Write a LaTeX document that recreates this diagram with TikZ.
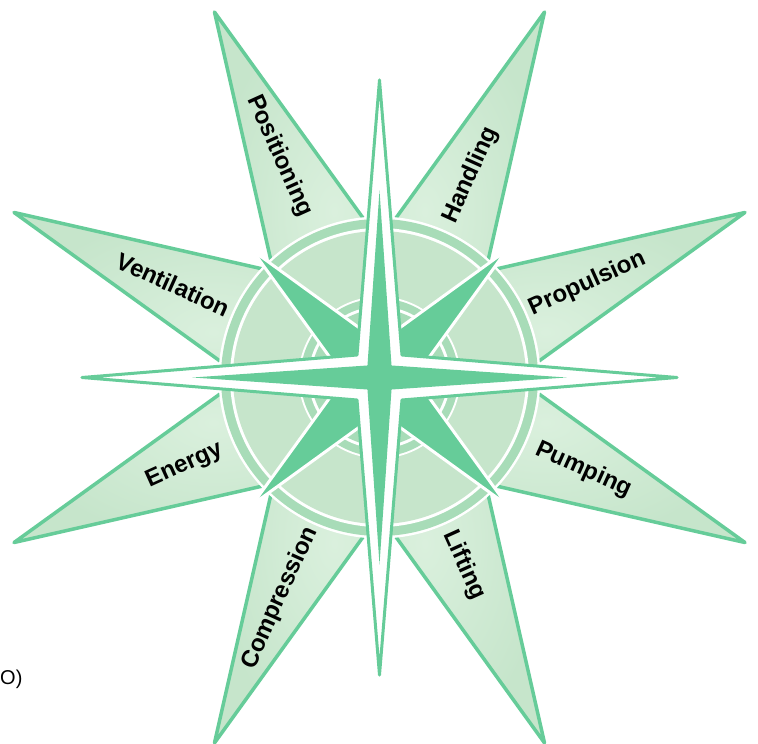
\documentclass[tikz,border=0pt]{standalone}
\usepackage{fontspec}
\setmainfont{Liberation Sans}
\definecolor{grn}{HTML}{66CC99}
\definecolor{lite}{HTML}{C6E5CB}
\definecolor{pale}{HTML}{DAF0DD}
\definecolor{mid}{HTML}{A8DCB8}
\begin{document}
\begin{tikzpicture}[x=1pt,y=1pt,
  petal/.style={draw=grn, line width=3.5pt, line join=round, shading=radial, inner color=pale, outer color=lite},
  lbl/.style={font=\bfseries\fontsize{24}{28}\selectfont, inner sep=0pt, text=black}]
\useasboundingbox (-379.5,-366.5) rectangle (378.5,377.5);
% petals
\foreach \a in {24.3,65.7,114.3,155.7,204.3,245.7,294.3,335.7}{
  \shadedraw[petal] (\a:401) -- (\a+90:81.6) -- (\a-90:81.6) -- cycle;
}
% outer ring
\fill[white] (0,0) circle (161);
\fill[mid] (0,0) circle (158.5);
\fill[white] (0,0) circle (149.5);
\fill[lite] (0,0) circle (146.5);
% inner ring
\fill[white] (0,0) circle (81);
\fill[mid] (0,0) circle (79);
\fill[white] (0,0) circle (71);
\fill[mid] (0,0) circle (68);
% diagonal star
\draw[fill=grn, draw=white, line width=3pt, line join=miter]
  (45:180) -- (90:35) -- (135:180) -- (180:35) -- (225:180) -- (270:35) -- (315:180) -- (0:35) -- cycle;
% long star
\draw[fill=white, draw=grn, line width=3pt, line join=round]
  (90:297.5) -- (45:31.8) -- (0:297.5) -- (-45:31.8) -- (-90:297.5) -- (-135:31.8) -- (180:297.5) -- (135:31.8) -- cycle;
\fill[grn]
  (90:187) -- (45:17) -- (0:187) -- (-45:17) -- (-90:187) -- (-135:17) -- (180:187) -- (135:17) -- cycle;
% labels
\node[lbl, rotate=-65.7] (pos) at (114.3:243) {Positioning};
\node[lbl, rotate=65.7] (han) at (65.7:222) {Handling};
\node[lbl, rotate=24.3] (pro) at (24.3:228) {Propulsion};
\node[lbl, rotate=-24.3] (pum) at (-24.3:224) {Pumping};
\node[lbl, rotate=-65.7] (lif) at (-65.7:206) {Lifting};
\node[lbl, rotate=65.7] (com) at (245.7:242) {Compression};
\node[lbl, rotate=24.3] (ene) at (204.3:214) {Energy};
\node[lbl, rotate=-24.3] (ven) at (155.7:226) {Ventilation};
\node[font=\fontsize{20}{24}\selectfont, anchor=west, inner sep=0pt] (oo) at (-379.5,-301.5) {O)};
\end{tikzpicture}
\end{document}
